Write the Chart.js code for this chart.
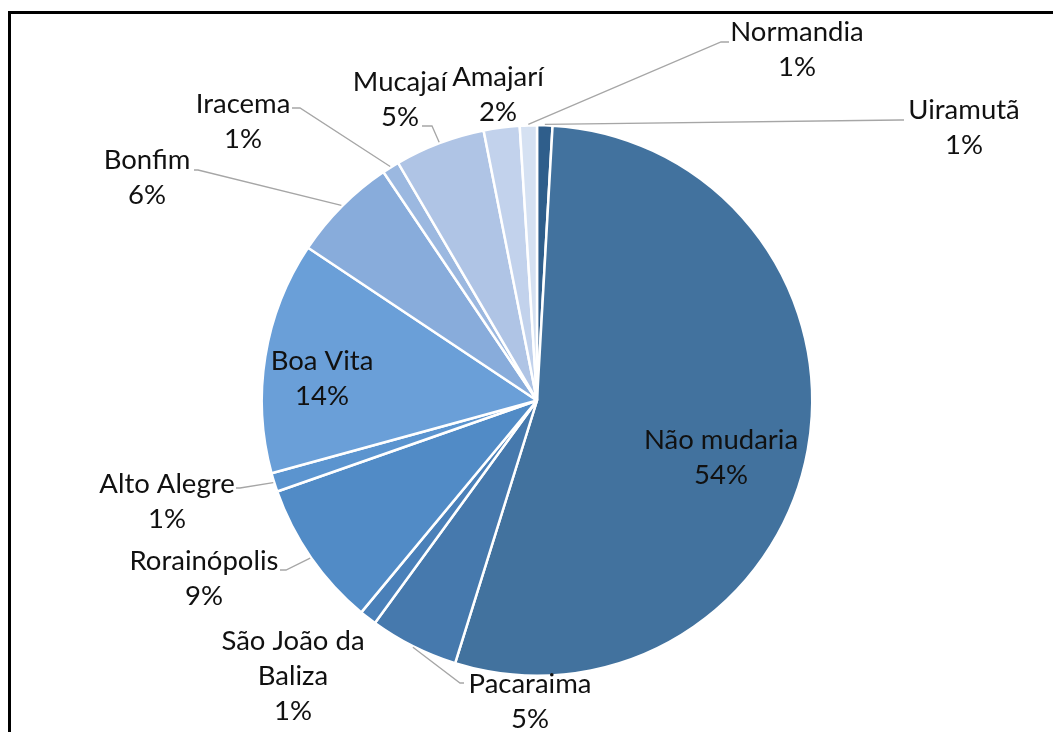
<!DOCTYPE html>
<html>
<head>
<meta charset="utf-8">
<script src="https://cdn.jsdelivr.net/npm/chart.js@4.4.1/dist/chart.umd.min.js"></script>
<style>
  html, body { margin: 0; padding: 0; background: #fff; overflow: hidden; }
  #wrap { position: relative; width: 1053px; height: 732px; }
  #frame { position: absolute; left: 8px; top: 11px; width: 1100px; height: 800px; border: 3px solid #000; box-sizing: border-box; }
  canvas { position: absolute; left: 0; top: 0; }
</style>
</head>
<body>
<div id="wrap">
  <div id="frame"></div>
  <canvas id="c" width="1053" height="732"></canvas>
</div>
<script>
// ---- data (clockwise from top) ----
const categories = ["Uiramutã", "Não mudaria", "Pacaraima", "São João da Baliza", "Rorainópolis", "Alto Alegre", "Boa Vita", "Bonfim", "Iracema", "Mucajaí", "Amajarí", "Normandia"];
const values = [0.9, 53.8, 5.2, 1.0, 8.6, 1.1, 13.6, 6.2, 1.0, 5.3, 2.1, 1.0];
const labelLines = [["Uiramutã"], ["Não mudaria"], ["Pacaraima"], ["São João da", "Baliza"], ["Rorainópolis"], ["Alto Alegre"], ["Boa Vita"], ["Bonfim"], ["Iracema"], ["Mucajaí"], ["Amajarí"], ["Normandia"]];
const colors = ["#2f5e8b", "#42729e", "#4679ad", "#4a80b9", "#518bc6", "#5b94cf", "#6a9fd8", "#88acdb", "#9bb8e0", "#afc4e5", "#c2d2ec", "#d5e1f2"];

// ---- label layout (text centre x, first line centre y, leader elbow / end) ----
const labelLayout = [
  { x: 964, y: 110, elbow: [900, 120], end: [904, 120] },
  { x: 721, y: 440, inside: true },
  { x: 530, y: 684, elbow: [460, 683], end: [464, 683] },
  { x: 293, y: 641 },
  { x: 204, y: 561, elbow: [286, 570], end: [280, 570] },
  { x: 167, y: 484, elbow: [240, 488], end: [236, 488] },
  { x: 322, y: 361, inside: true },
  { x: 147, y: 160, elbow: [198, 170], end: [194, 170] },
  { x: 243, y: 104, elbow: [300, 108], end: [292, 108] },
  { x: 400, y: 82, elbow: [432, 126], end: [422, 126] },
  { x: 498, y: 77 },
  { x: 797, y: 32, elbow: [721, 42], end: [729, 42] }
];

const total = values.reduce((a, b) => a + b, 0);
const FONT = '27.5px Lato, "Open Sans", sans-serif';
const LINE_H = 35;

const labelPlugin = {
  id: 'pieLabels',
  afterDatasetsDraw(chart) {
    const ctx = chart.ctx;
    const meta = chart.getDatasetMeta(0);
    ctx.save();
    meta.data.forEach((arc, i) => {
      const lay = labelLayout[i];
      const pct = Math.round(values[i] / total * 100) + '%';
      const lines = labelLines[i].concat([pct]);
      if (lay.elbow) {
        const mid = (arc.startAngle + arc.endAngle) / 2;
        const r = arc.outerRadius + 1;
        const sx = arc.x + Math.cos(mid) * r;
        const sy = arc.y + Math.sin(mid) * r;
        ctx.strokeStyle = '#a6a6a6';
        ctx.lineWidth = 1.3;
        ctx.beginPath();
        ctx.moveTo(sx, sy);
        ctx.lineTo(lay.elbow[0], lay.elbow[1]);
        ctx.lineTo(lay.end[0], lay.end[1]);
        ctx.stroke();
      }
      ctx.fillStyle = '#111';
      ctx.font = FONT;
      ctx.textAlign = 'center';
      ctx.textBaseline = 'middle';
      lines.forEach((t, k) => ctx.fillText(t, lay.x, lay.y + k * LINE_H));
    });
    ctx.restore();
  }
};

new Chart(document.getElementById('c'), {
  type: 'pie',
  data: {
    labels: categories,
    datasets: [{
      data: values,
      backgroundColor: colors,
      borderColor: '#ffffff',
      borderWidth: 2.5
    }]
  },
  options: {
    responsive: false,
    animation: false,
    layout: { padding: { left: 260, right: 239, top: 124, bottom: 55 } },
    plugins: { legend: { display: false }, tooltip: { enabled: false } }
  },
  plugins: [labelPlugin]
});
</script>
</body>
</html>
